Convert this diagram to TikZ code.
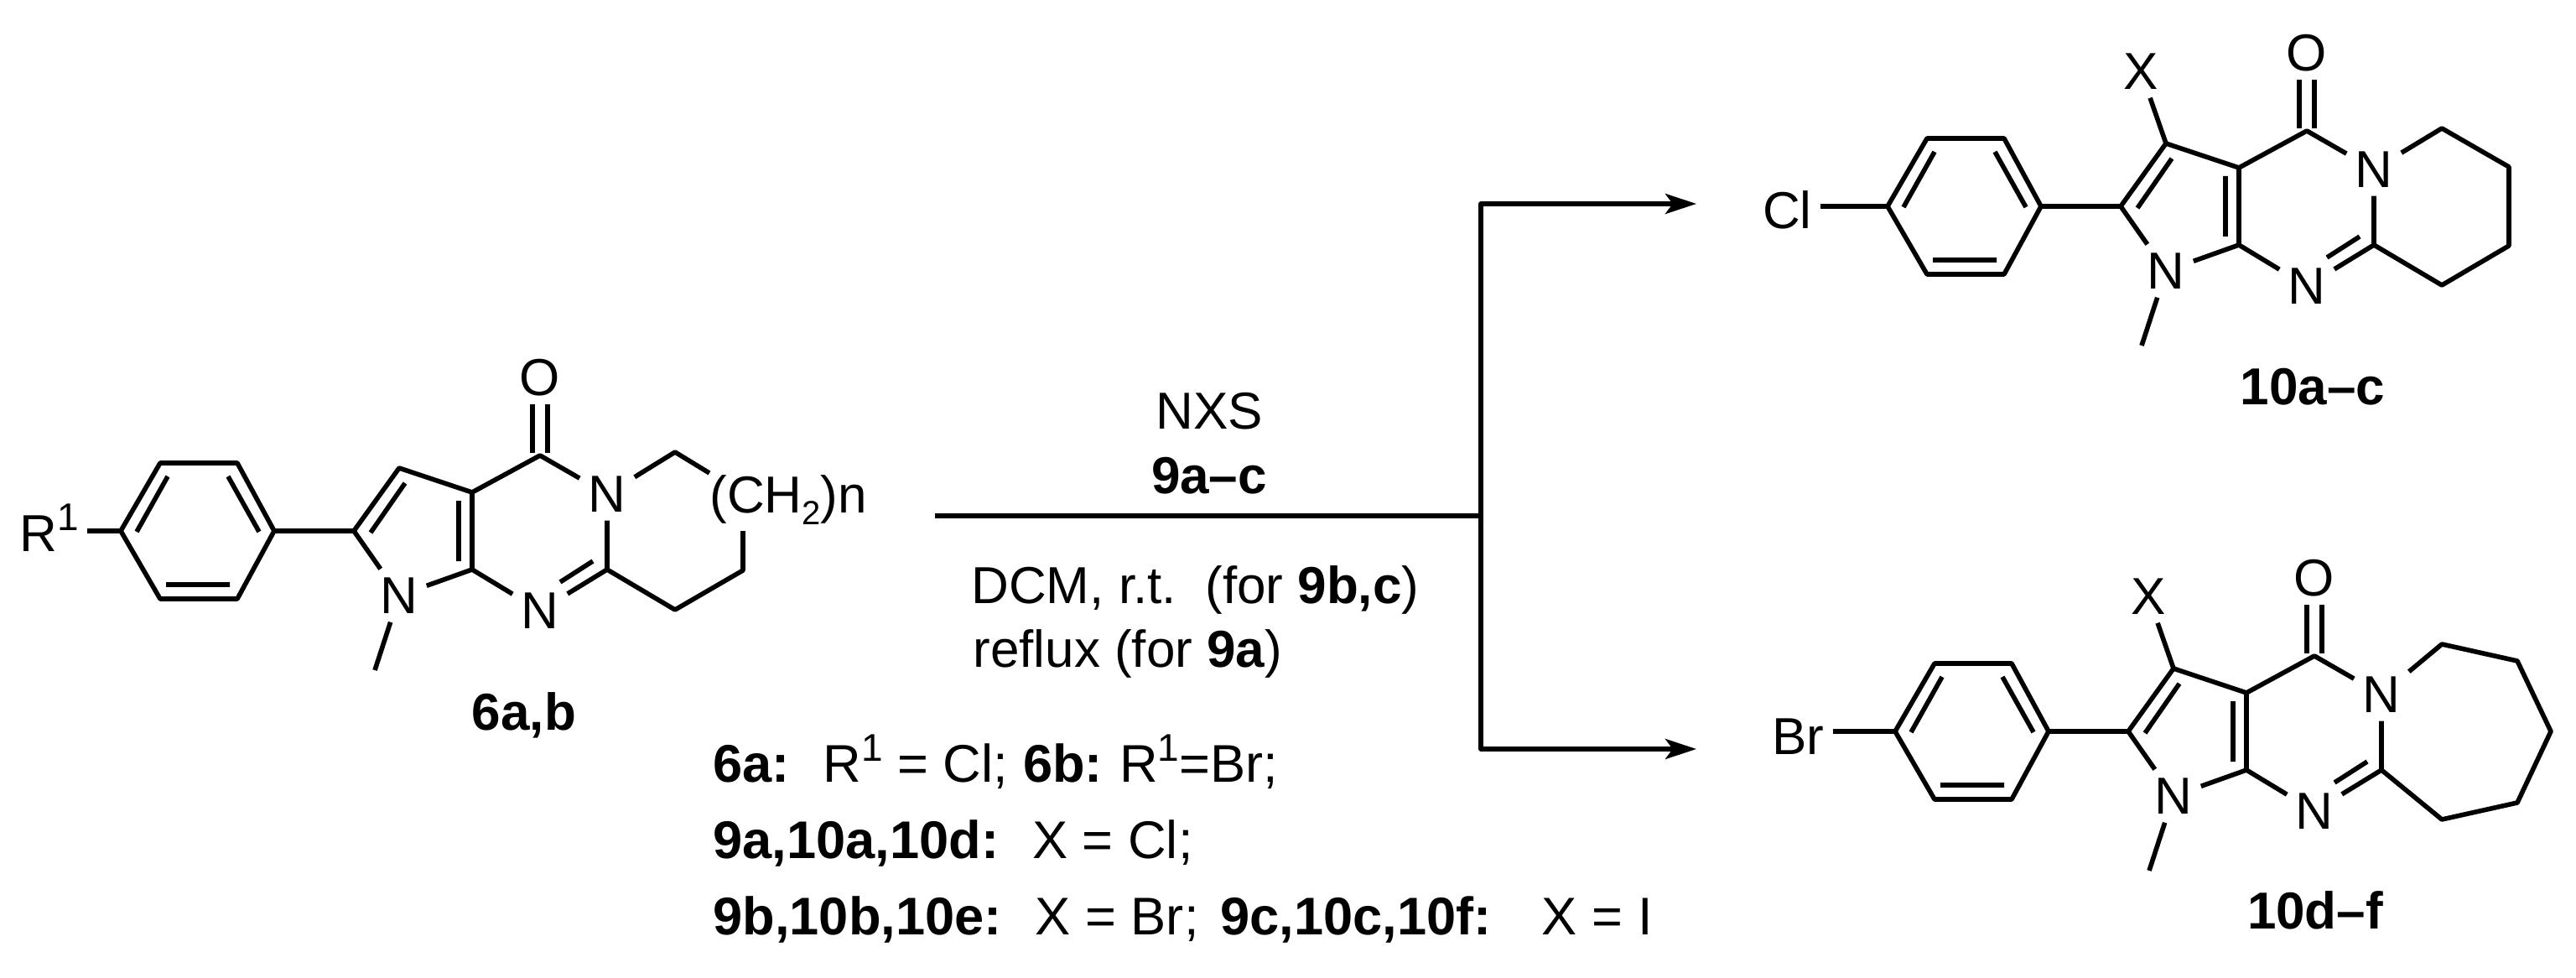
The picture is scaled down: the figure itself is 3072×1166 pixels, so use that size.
\documentclass[tikz,border=0pt]{standalone}
\usepackage{fontspec}
\setmainfont{Liberation Sans}
\usetikzlibrary{arrows.meta}
\tikzset{
	bond/.style={line width=1.4pt,line join=round},
	every node/.style={font=\fontsize{15.5}{18}\selectfont,inner sep=2.4pt},
	keyline/.style={anchor=base west,font=\fontsize{15.8}{18}\selectfont},
}
\newcommand{\supone}{\raisebox{6.2pt}{\fontsize{11.5}{12}\selectfont 1}}
\newcommand{\subtwo}{\raisebox{-3.7pt}{\fontsize{10}{12}\selectfont 2}}
% shared ring system, origin at the para carbon of the aryl group
\newcommand{\pyrrcore}{
	\coordinate (pa) at (0,0);
	\coordinate (pb) at (47,-81);
	\coordinate (pc) at (139,-81);
	\coordinate (pd) at (183,0);
	\coordinate (pe) at (139,81);
	\coordinate (pf) at (47,81);
	\coordinate (cb) at (278,0);
	\coordinate (cc) at (332,-75);
	\coordinate (cd) at (419,-46);
	\coordinate (ce) at (419,46);
	\coordinate (cf) at (500,-90);
	\coordinate (cg) at (580,46);
	\coordinate (me) at (303,166);
	\draw (332,77) node (na){N};
	\draw (580,-44) node (nb){N};
	\draw (500,95) node (nc){N};
	\draw (500,-183) node (ox){O};
	\draw[bond] (pa)--(pb)--(pc)--(pd)--(pe)--(pf)--cycle;
	\draw[bond] (19,1)--(56,-65) (128,-65)--(165,1) (54,64)--(130,64);
	\draw[bond] (pd)--(cb)--(cc)--(cd)--(ce);
	\draw[bond] (cb)--(na)--(ce)--(nc) (na)--(me);
	\draw[bond] (cd)--(cf)--(nb)--(cg)--(nc);
	\draw[bond] (298,2)--(339,-57) (403,-36)--(403,36) (563,36)--(524,61);
	\draw[bond] ([shift={(-9,-3)}]cf)--([xshift=-2.25pt]ox.south);
	\draw[bond] ([shift={(9,-3)}]cf)--([xshift=2.25pt]ox.south);
}
\begin{document}
\begin{tikzpicture}[x=0.25pt,y=-0.25pt,>={Stealth[length=9.25pt,width=6pt,inset=2.2pt]}]
	\useasboundingbox (0,0) rectangle (3072,1166);
	% starting material
	\begin{scope}[shift={(144,633)},name prefix=sm-]
		\pyrrcore
		\draw (-40,24) node[anchor=base east] (rone){R\supone};
		\draw[bond] (rone.east |- pa)--(pa);
		\coordinate (ch) at (661,-94);
		\coordinate (ci) at (702,-69);
		\coordinate (cj) at (661,94);
		\coordinate (ck) at (742,47);
		\coordinate (cl) at (742,0);
		\draw[bond] (nb)--(ch)--(ci) (cg)--(cj)--(ck)--(cl);
		\draw (692,-22) node[anchor=base west] (chain){(CH\subtwo)n};
		\draw (481,237) node[anchor=base] (smlabel){\bfseries 6a,b};
	\end{scope}
	% upper product
	\begin{scope}[shift={(2251,246)},name prefix=up-]
		\pyrrcore
		\draw (-80,26) node[anchor=base east] (cl){Cl};
		\draw (302,-161) node (xa){X};
		\draw[bond] (cl.east |- pa)--(pa) (cc)--(xa);
		\coordinate (ch) at (661,-93);
		\coordinate (ci) at (741,-47);
		\coordinate (cj) at (741,47);
		\coordinate (ck) at (661,94);
		\draw[bond] (nb)--(ch)--(ci)--(cj)--(ck)--(cg);
		\draw (507,236) node[anchor=base] (uplabel){\bfseries 10a--c};
	\end{scope}
	% lower product
	\begin{scope}[shift={(2260,872)},name prefix=lo-]
		\pyrrcore
		\draw (-74,27) node[anchor=base east] (br){Br};
		\draw (302,-161) node (xb){X};
		\draw[bond] (br.east |- pa)--(pa) (cc)--(xb);
		\coordinate (ch) at (652,-104);
		\coordinate (ci) at (742,-84);
		\coordinate (cj) at (782,0);
		\coordinate (ck) at (742,85);
		\coordinate (cl) at (652,105);
		\draw[bond] (nb)--(ch)--(ci)--(cj)--(ck)--(cl)--(cg);
		\draw (501,235) node[anchor=base] (lolabel){\bfseries 10d--f};
	\end{scope}
	% reaction arrows
	\coordinate (start) at (1115,615);
	\coordinate (fork) at (1766,615);
	\coordinate (topcorner) at (1766,243);
	\coordinate (botcorner) at (1766,893);
	\coordinate (toptip) at (2023,243);
	\coordinate (bottip) at (2023,893);
	\draw[bond] (start)--(fork);
	\draw[bond,->] (fork)--(topcorner)--(toptip);
	\draw[bond,->] (fork)--(botcorner)--(bottip);
	\draw (1442,511) node[anchor=base] (reagent){NXS};
	\draw (1442,588) node[anchor=base] (reagentno){\bfseries 9a--c};
	\draw (1148,719) node[anchor=base west] (condone){DCM, r.t.\ \ (for \textbf{9b,c})};
	\draw (1150,795) node[anchor=base west] (condtwo){reflux (for \textbf{9a})};
	\draw (840,932) node[keyline] (keyone){\textbf{6a:}\hspace{10pt}R\supone\ = Cl;\hspace{4.5pt}\textbf{6b:}\hspace{5pt}R\supone=Br;};
	\draw (840,1023) node[keyline] (keytwo){\textbf{9a,10a,10d:}\hspace{10pt}X = Cl;};
	\draw (840,1114) node[keyline] (keythree){\textbf{9b,10b,10e:}\hspace{10pt}X = Br;\hspace{6.5pt}\textbf{9c,10c,10f:}\hspace{15pt}X = I};
\end{tikzpicture}
\end{document}
